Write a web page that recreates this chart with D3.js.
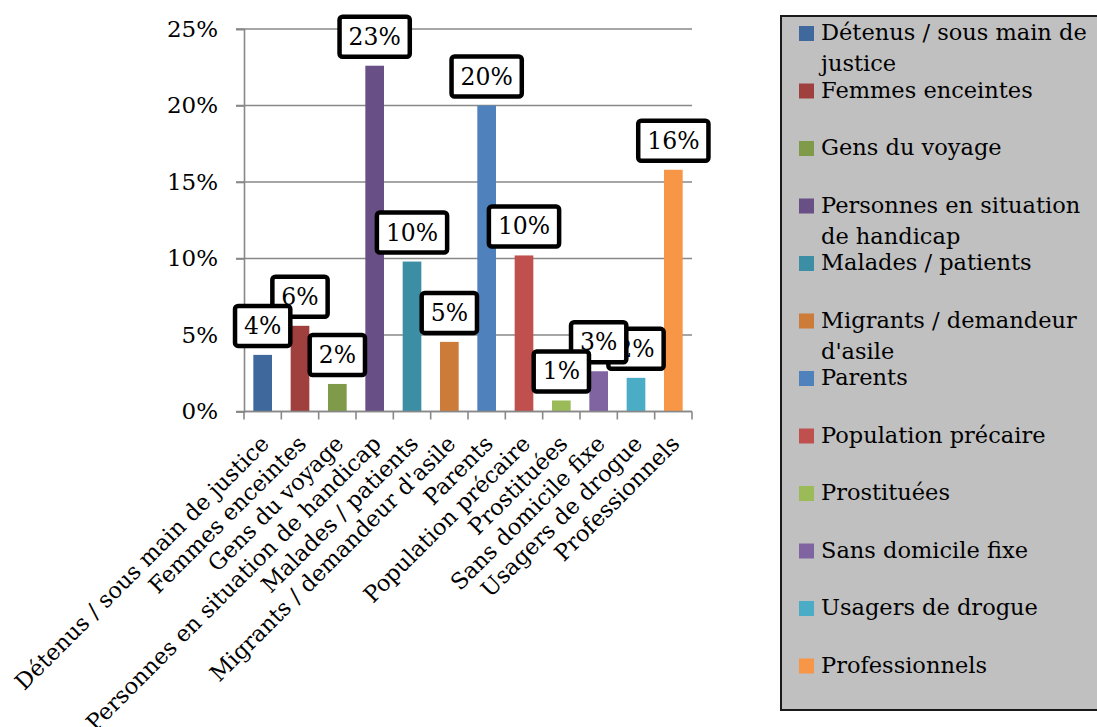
<!DOCTYPE html>
<html><head><meta charset="utf-8">
<script src="https://cdn.jsdelivr.net/npm/d3@7"></script>
<style>
body{margin:0;background:#fff}
svg{display:block}
text{font-family:"DejaVu Serif",serif;fill:#000}
</style>
</head><body>
<svg id="chart" width="1097" height="727"></svg>
<script>
const categories = [
  "Détenus / sous main de justice",
  "Femmes enceintes",
  "Gens du voyage",
  "Personnes en situation de handicap",
  "Malades / patients",
  "Migrants / demandeur d'asile",
  "Parents",
  "Population précaire",
  "Prostituées",
  "Sans domicile fixe",
  "Usagers de drogue",
  "Professionnels"
];
const values = [0.037, 0.056, 0.018, 0.226, 0.098, 0.0455, 0.200, 0.102, 0.0072, 0.0263, 0.022, 0.158];
const colors = ["#3F699C", "#A0403E", "#7F9A48", "#684F86", "#3C8EA4", "#CC7B38",
                "#4F81BD", "#C0504D", "#9BBB59", "#8064A2", "#4BACC6", "#F79646"];
const yTicks = [0, 0.05, 0.10, 0.15, 0.20, 0.25];

const svg = d3.select("#chart");
const P = {left: 244, right: 692, top: 29, bottom: 411.5};
const FS_TICK = 23, FS_LABEL = 23.5, FS_CAT = 22.5, FS_LEG = 22.5;

const x = d3.scaleBand().domain(categories).range([P.left, P.right])
  .paddingInner(0.5).paddingOuter(0.25);
const y = d3.scaleLinear().domain([0, 0.25]).range([P.bottom, P.top]);
const fmt = d3.format(".0%");
const gridColor = "#888888";

// gridlines
svg.append("g").selectAll("line").data(yTicks).join("line")
  .attr("x1", P.left - 8).attr("x2", P.right)
  .attr("y1", d => y(d)).attr("y2", d => y(d))
  .attr("stroke", gridColor).attr("stroke-width", 1.6);

// y axis
const yAxis = svg.append("g").attr("transform", `translate(${P.left},0)`)
  .call(d3.axisLeft(y).tickValues(yTicks).tickFormat(fmt).tickSize(8).tickPadding(18));
yAxis.select(".domain").attr("stroke", gridColor).attr("stroke-width", 1.6);
yAxis.selectAll(".tick line").attr("stroke", gridColor).attr("stroke-width", 1.6);
yAxis.selectAll(".tick text").attr("font-size", FS_TICK).attr("font-family", "DejaVu Serif").attr("fill", "#000");

// bars
svg.append("g").selectAll("rect").data(categories).join("rect")
  .attr("x", d => x(d)).attr("width", x.bandwidth())
  .attr("y", (d, i) => y(values[i]))
  .attr("height", (d, i) => y(0) - y(values[i]))
  .attr("fill", (d, i) => colors[i]);

// x axis
const boundaries = d3.range(categories.length + 1).map(i => P.left + i * x.step());
svg.append("line").attr("x1", P.left).attr("x2", P.right)
  .attr("y1", y(0)).attr("y2", y(0)).attr("stroke", gridColor).attr("stroke-width", 1.6);
svg.append("g").selectAll("line").data(boundaries).join("line")
  .attr("x1", d => d).attr("x2", d => d)
  .attr("y1", y(0)).attr("y2", y(0) + 8)
  .attr("stroke", gridColor).attr("stroke-width", 1.6);

svg.append("g").selectAll("text").data(categories).join("text")
  .attr("transform", d => `translate(${x(d) + x.bandwidth() / 2 + 2},${y(0) + 28}) rotate(-45)`)
  .attr("text-anchor", "end")
  .attr("dominant-baseline", "central")
  .attr("font-size", FS_CAT)
  .text(d => d);

// data labels (drawn in reverse so earlier ones sit on top)
const order = d3.range(categories.length).reverse();
const lg = svg.append("g");
order.forEach(i => {
  const c = categories[i];
  const g = lg.append("g")
    .attr("transform", `translate(${x(c) + x.bandwidth() / 2},${y(values[i]) - 29})`);
  const r = g.append("rect");
  const t = g.append("text").attr("text-anchor", "middle").attr("dominant-baseline", "central")
    .attr("font-size", FS_LABEL).text(fmt(values[i]));
  const w = t.node().getComputedTextLength();
  r.attr("x", -(w / 2 + 9)).attr("width", w + 18)
   .attr("y", -20).attr("height", 40).attr("rx", 3)
   .attr("fill", "#fff").attr("stroke", "#000").attr("stroke-width", 4.5);
});

// legend
const L = {x: 781, y: 16, w: 330, h: 694};
svg.append("rect").attr("x", L.x).attr("y", L.y).attr("width", L.w).attr("height", L.h)
  .attr("fill", "#C0C0C0").attr("stroke", "#1a1a1a").attr("stroke-width", 2);
const maxW = 275;
const items = svg.append("g").selectAll("g").data(categories).join("g")
  .attr("transform", (d, i) => `translate(${L.x + 18},${40 + i * 57.5})`);
items.append("rect").attr("x", 0).attr("y", -14).attr("width", 15).attr("height", 15)
  .attr("fill", (d, i) => colors[i]);
items.each(function(d) {
  const t = d3.select(this).append("text").attr("x", 22).attr("y", 0).attr("font-size", FS_LEG);
  const words = d.split(" ");
  let line = [];
  let ts = t.append("tspan").attr("x", 22).attr("dy", 0);
  words.forEach(wd => {
    line.push(wd);
    ts.text(line.join(" "));
    if (ts.node().getComputedTextLength() > maxW && line.length > 1) {
      line.pop();
      ts.text(line.join(" "));
      line = [wd];
      ts = t.append("tspan").attr("x", 22).attr("dy", 31).text(wd);
    }
  });
});
</script>
</body></html>
